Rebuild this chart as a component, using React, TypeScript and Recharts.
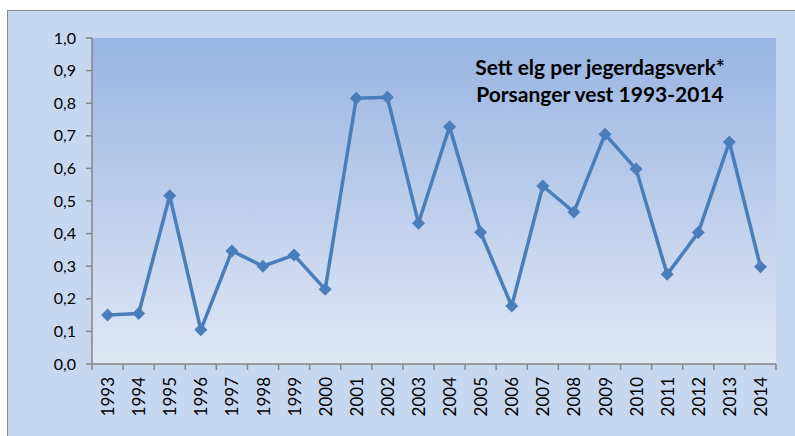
import React from 'react';
import { LineChart, Line, XAxis, YAxis, CartesianGrid } from 'recharts';

const years = ['1993', '1994', '1995', '1996', '1997', '1998', '1999', '2000', '2001', '2002', '2003',
    '2004', '2005', '2006', '2007', '2008', '2009', '2010', '2011', '2012', '2013', '2014'];
const settElg = [0.15, 0.155, 0.516, 0.105, 0.347, 0.3, 0.334, 0.229, 0.815, 0.818, 0.432,
    0.728, 0.404, 0.178, 0.546, 0.466, 0.705, 0.598, 0.275, 0.403, 0.681, 0.298];
const yTicks = [0, 0.1, 0.2, 0.3, 0.4, 0.5, 0.6, 0.7, 0.8, 0.9, 1.0];
const titleLines = ['Sett elg per jegerdagsverk*', 'Porsanger vest 1993-2014'];

const data = years.map((year, i) => ({ year, value: settElg[i] }));

const FONT = 'Lato, "Liberation Sans", sans-serif';
const AXIS = '#868686';
const LINE = '#4a7ebb';

const Diamond = (props: any) => {
    const { cx, cy } = props;
    if (cx == null || cy == null) return null;
    const s = 6.5;
    return <polygon points={`${cx},${cy - s} ${cx + s},${cy} ${cx},${cy + s} ${cx - s},${cy}`} fill={LINE} />;
};

const YearTick = (props: any) => {
    const { x, y, payload, index, visibleTicksCount } = props;
    const off = payload.offset || 15.5;
    const last = index === visibleTicksCount - 1;
    return (
        <g>
            <line x1={x - off} y1={y} x2={x - off} y2={y + 6} stroke={AXIS} strokeWidth={1.5} />
            {last && <line x1={x + off} y1={y} x2={x + off} y2={y + 6} stroke={AXIS} strokeWidth={1.5} />}
            <text x={0} y={0} transform={`translate(${x},${y + 13}) rotate(-90)`} textAnchor="end"
                dominantBaseline="central" fontSize={17} fontFamily={FONT} fill="#000">
                {payload.value}
            </text>
        </g>
    );
};

const App: React.FC = () => {
    return (
        <div style={{ position: 'absolute', left: 0, top: 0, width: 795, height: 436, background: '#fff', overflow: 'hidden' }}>
            <div style={{
                position: 'absolute', left: 7, top: 10, width: 800, height: 440,
                background: '#c6d8f0', borderTop: '1px solid #8c8c8c', borderLeft: '1px solid #8c8c8c'
            }} />
            <div style={{ position: 'absolute', left: 0, top: 0 }}>
                <LineChart width={795} height={436} data={data} margin={{ top: 38, right: 19, left: 0, bottom: 12 }}>
                    <defs>
                        <linearGradient id="plotFill" x1="0" y1="0" x2="0" y2="1">
                            <stop offset="0%" stopColor="#99b4e2" />
                            <stop offset="100%" stopColor="#e0e7f5" />
                        </linearGradient>
                    </defs>
                    <CartesianGrid horizontal={false} vertical={false} fill="url(#plotFill)" stroke="none" />
                    <XAxis dataKey="year" scale="band" interval={0} height={60} tickLine={false} tickSize={0}
                        tickMargin={0} axisLine={{ stroke: AXIS, strokeWidth: 1.5 }} tick={<YearTick />} />
                    <YAxis domain={[0, 1]} ticks={yTicks} width={92} tickSize={6} tickMargin={10}
                        tickFormatter={(v: number) => v.toFixed(1).replace('.', ',')}
                        tick={{ fontSize: 16, fontFamily: FONT, fill: '#000' }}
                        axisLine={{ stroke: AXIS, strokeWidth: 1.5 }} tickLine={{ stroke: AXIS, strokeWidth: 1.5 }} />
                    <Line type="linear" dataKey="value" stroke={LINE} strokeWidth={3.5} dot={<Diamond />}
                        activeDot={false} isAnimationActive={false} />
                    {titleLines.map((t, i) => (
                        <text key={t} x={600} y={66 + i * 27} textAnchor="middle" dominantBaseline="central"
                            fontSize={21} fontWeight="bold" fontFamily={FONT} fill="#000">{t}</text>
                    ))}
                </LineChart>
            </div>
        </div>
    );
};

export default App;
